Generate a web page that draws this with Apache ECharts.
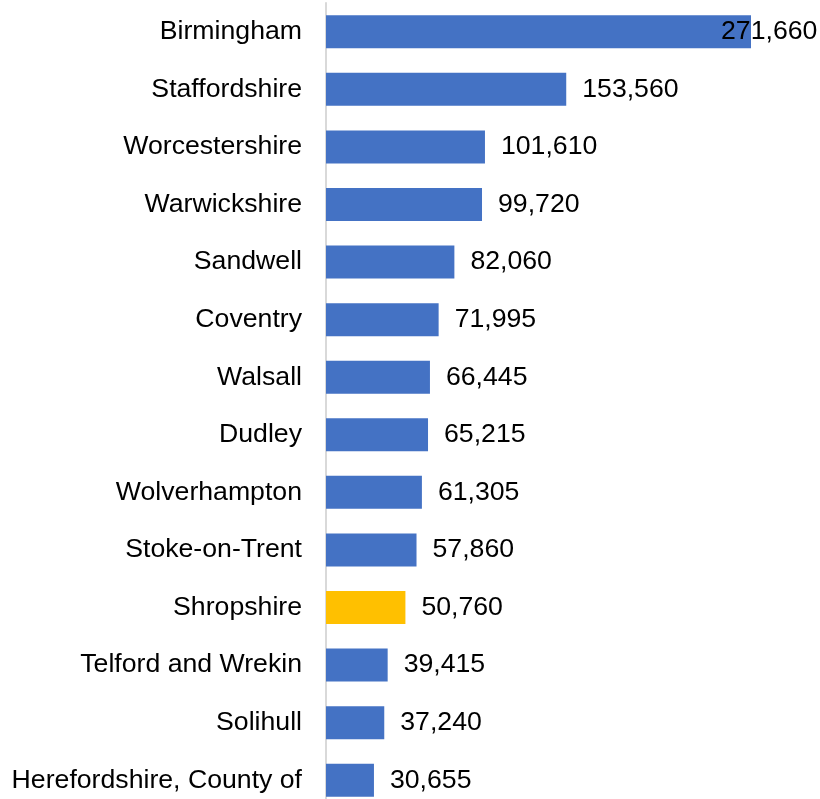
<!DOCTYPE html>
<html><head><meta charset="utf-8">
<script src="https://cdn.jsdelivr.net/npm/echarts@6/dist/echarts.min.js"></script>
<style>html,body{margin:0;padding:0;background:#fff}#c{width:820px;height:799px}</style>
</head><body><div id="c"></div>
<script>
const categories = ["Birmingham","Staffordshire","Worcestershire","Warwickshire","Sandwell","Coventry","Walsall","Dudley","Wolverhampton","Stoke-on-Trent","Shropshire","Telford and Wrekin","Solihull","Herefordshire, County of"];
const values = [271660,153560,101610,99720,82060,71995,66445,65215,61305,57860,50760,39415,37240,30655];
const highlight = "Shropshire";

const chart = echarts.init(document.getElementById('c'));
const data = values.map((v,i)=>{
  const d = {value:v, itemStyle:{color: categories[i]===highlight ? '#FFC000' : '#4472C4'}};
  if (i===0) d.label = {offset:[-46,0]};
  return d;
});
chart.setOption({
  animation:false,
  grid:{left:326, top:3, width:425, height:806, containLabel:false, outerBoundsMode:'none'},
  xAxis:{type:'value', min:0, max:271660, show:false},
  yAxis:{type:'category', data:categories, inverse:true,
    axisLine:{show:true, lineStyle:{color:'#d9d9d9', width:2}},
    axisTick:{show:false},
    axisLabel:{margin:24, color:'#000', fontSize:26.67, fontFamily:'Liberation Sans, Arial, sans-serif'}},
  series:[{type:'bar', data:data, barWidth:33,
    label:{show:true, position:'right', distance:16, color:'#000', fontSize:26.67,
      fontFamily:'Liberation Sans, Arial, sans-serif',
      formatter:p=>p.value.toLocaleString('en-US')}}]
});
</script></body></html>
